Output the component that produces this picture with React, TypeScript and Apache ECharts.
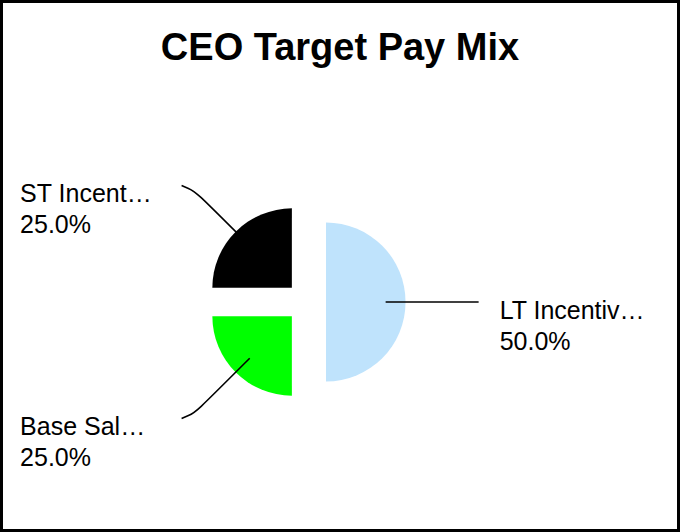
import React, { useEffect, useRef } from 'react';
import * as echarts from 'echarts';

const chartTitle = 'CEO Target Pay Mix';
const categories = ['LT Incentive', 'Base Salary', 'ST Incentive'];
const labelNames = ['LT Incentiv…', 'Base Sal…', 'ST Incent…'];
const values = [50, 25, 25];
const colors = ['#BFE3FC', '#00FF00', '#000000'];

export default function App() {
  const ref = useRef<HTMLDivElement>(null);
  useEffect(() => {
    document.body.style.margin = '0';
    const chart = echarts.init(ref.current as HTMLDivElement, null, { renderer: 'svg' });
    const font = "'Liberation Sans', Arial, sans-serif";
    const center = [306, 302];
    const R = 79.5;
    const offset = 20;
    chart.setOption({
      animation: false,
      backgroundColor: '#ffffff',
      title: {
        text: chartTitle,
        left: 'center',
        top: 28,
        padding: 0,
        textStyle: { fontFamily: font, fontSize: 38, fontWeight: 'bold', color: '#000' },
      },
      graphic: [
        {
          type: 'rect',
          z: 100,
          shape: { x: 1.5, y: 1.5, width: 677, height: 529 },
          style: { fill: 'none', stroke: '#000', lineWidth: 3 },
        },
      ],
      series: [
        {
          type: 'pie',
          z: 2,
          center,
          radius: R,
          selectedMode: 'multiple',
          selectedOffset: offset,
          label: { show: false },
          labelLine: { show: false },
          emphasis: { disabled: true },
          data: categories.map((name, i) => ({
            name,
            value: values[i],
            selected: true,
            itemStyle: { color: colors[i] },
          })),
        },
        {
          type: 'pie',
          z: 5,
          center,
          radius: R * 0.75,
          selectedMode: 'multiple',
          selectedOffset: offset,
          avoidLabelOverlap: false,
          itemStyle: { color: 'rgba(0,0,0,0)' },
          emphasis: { disabled: true },
          label: {
            show: true,
            position: 'outside',
            alignTo: 'none',
            distanceToLabelLine: 21,
            padding: [46, 0, 0, 0],
            formatter: (p: any) =>
              `{t|${labelNames[p.dataIndex]}}\n{t|${Number(p.percent).toFixed(1)}%}`,
            rich: {
              t: {
                width: 140.5,
                align: 'left',
                fontSize: 25,
                lineHeight: 31,
                fontFamily: font,
                color: '#000',
              },
            },
          },
          labelLine: {
            show: true,
            length: 85,
            length2: 8,
            smooth: 1,
            lineStyle: { color: '#000', width: 1.6 },
          },
          data: categories.map((name, i) => ({
            name,
            value: values[i],
            selected: true,
          })),
        },
      ],
    });
    return () => chart.dispose();
  }, []);
  return <div ref={ref} style={{ width: 680, height: 532 }} />;
}
